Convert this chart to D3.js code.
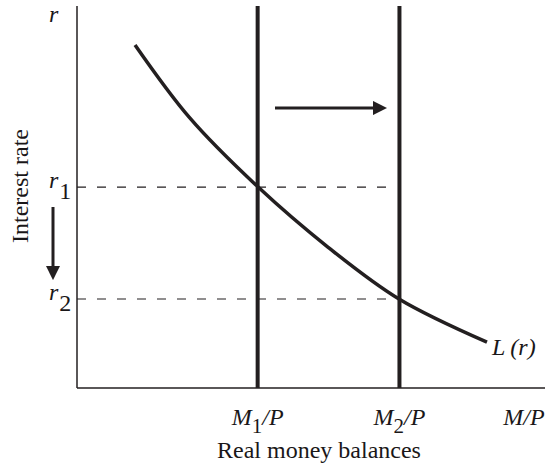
<!DOCTYPE html>
<html>
<head>
<meta charset="utf-8">
<script src="https://cdn.jsdelivr.net/npm/d3@7"></script>
<style>
  body { margin: 0; background: #fff; }
  text { font-family: "Liberation Serif", "Times New Roman", serif; fill: #1a1718; }
</style>
</head>
<body>
<div id="chart"></div>
<script>
// money demand curve L(r), values in arbitrary units (0-100)
const curveX = [12.4, 24.1, 38.7, 53.6, 68.8, 87.6];
const curveY = [89.8, 70.7, 52.6, 36.9, 23.3, 12.0];

// supply positions and interest rates
const supplyLevels = [38.6, 68.9];
const supplyLabels = ["1", "2"];
const rateLevels = [52.6, 23.3];
const rateLabels = ["1", "2"];

const width = 548, height = 465;
const ink = "#231f20";

const svg = d3.select("#chart").append("svg")
  .attr("width", width)
  .attr("height", height);

const x = d3.scaleLinear().domain([0, 100]).range([77, 545]);
const y = d3.scaleLinear().domain([0, 100]).range([388, 6]);

// axes
svg.append("line")
  .attr("x1", x(0)).attr("x2", x(0))
  .attr("y1", y(0)).attr("y2", y(100))
  .attr("stroke", ink).attr("stroke-width", 1.5);
svg.append("line")
  .attr("x1", x(0)).attr("x2", x(100))
  .attr("y1", y(0)).attr("y2", y(0))
  .attr("stroke", ink).attr("stroke-width", 1.5);

// dashed lines at r1, r2
svg.selectAll(".dash")
  .data(rateLevels)
  .join("line")
  .attr("x1", x(0))
  .attr("x2", (d, i) => i == 0 ? x(67) : x(supplyLevels[1]))
  .attr("y1", d => y(d)).attr("y2", d => y(d))
  .attr("stroke", ink).attr("stroke-width", 1.2)
  .attr("stroke-dasharray", "9,11");

// money supply verticals
svg.selectAll(".supply")
  .data(supplyLevels)
  .join("line")
  .attr("x1", d => x(d)).attr("x2", d => x(d))
  .attr("y1", y(0)).attr("y2", y(100))
  .attr("stroke", ink).attr("stroke-width", 4);

// demand curve
const pts = curveX.map((v, i) => [v, curveY[i]]);
svg.append("path")
  .datum(pts)
  .attr("d", d3.line().x(d => x(d[0])).y(d => y(d[1])).curve(d3.curveCatmullRom))
  .attr("fill", "none")
  .attr("stroke", ink).attr("stroke-width", 3.5);

// arrows
svg.append("defs").append("marker")
  .attr("id", "head")
  .attr("viewBox", "0 0 10 10")
  .attr("refX", 0).attr("refY", 5)
  .attr("markerWidth", 4.7).attr("markerHeight", 4.7)
  .attr("markerUnits", "strokeWidth")
  .attr("orient", "auto")
  .append("path")
  .attr("d", "M0,0 L10,5 L0,10 Z")
  .attr("fill", ink);

svg.append("line")
  .attr("x1", 275).attr("x2", 373)
  .attr("y1", 108).attr("y2", 108)
  .attr("stroke", ink).attr("stroke-width", 3)
  .attr("marker-end", "url(#head)");

svg.append("line")
  .attr("x1", 53).attr("x2", 53)
  .attr("y1", 207).attr("y2", 266)
  .attr("stroke", ink).attr("stroke-width", 3)
  .attr("marker-end", "url(#head)");

// labels
const fs = 24;
svg.append("text")
  .attr("x", 49).attr("y", 22)
  .attr("font-size", fs).attr("font-style", "italic")
  .text("r");

rateLevels.forEach((d, i) => {
  const t = svg.append("text")
    .attr("x", 49).attr("y", y(d) + 1)
    .attr("font-size", fs);
  t.append("tspan").attr("font-style", "italic").text("r");
  t.append("tspan").attr("dy", 11).attr("dx", 1).text(rateLabels[i]);
});

supplyLevels.forEach((d, i) => {
  const t = svg.append("text")
    .attr("x", x(d)).attr("y", 425)
    .attr("text-anchor", "middle")
    .attr("font-size", fs);
  t.append("tspan").attr("font-style", "italic").text("M");
  t.append("tspan").attr("dy", 8).attr("font-size", 21).text(supplyLabels[i]);
  t.append("tspan").attr("dy", -8).attr("font-style", "italic").text("/P");
});

svg.append("text")
  .attr("x", 524).attr("y", 425)
  .attr("text-anchor", "middle")
  .attr("font-size", fs).attr("font-style", "italic")
  .text("M/P");

svg.append("text")
  .attr("x", 319).attr("y", 458)
  .attr("text-anchor", "middle")
  .attr("font-size", fs)
  .text("Real money balances");

svg.append("text")
  .attr("transform", "translate(28,186) rotate(-90)")
  .attr("text-anchor", "middle")
  .attr("font-size", fs)
  .text("Interest rate");

const lt = svg.append("text")
  .attr("x", 492).attr("y", 355)
  .attr("font-size", fs).attr("font-style", "italic");
lt.append("tspan").text("L");
lt.append("tspan").attr("dx", 5).text("(r)");
</script>
</body>
</html>
